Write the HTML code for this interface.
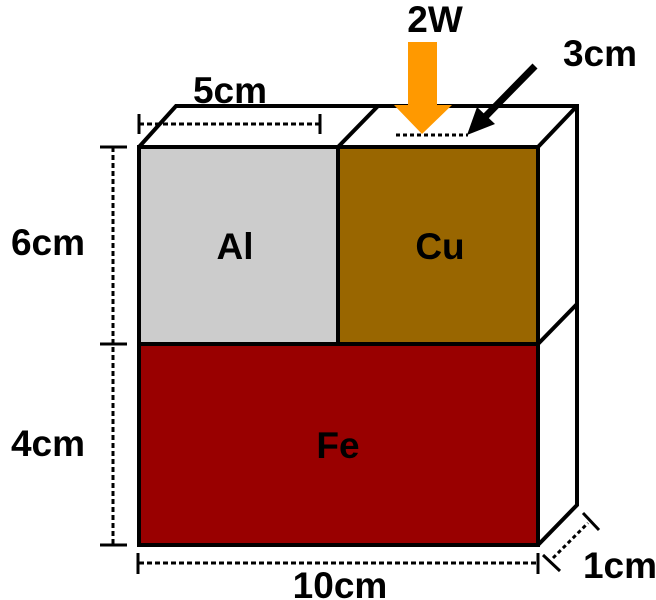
<!DOCTYPE html>
<html><head><style>body{margin:0;background:#fff}svg{display:block}</style></head><body>
<svg width="656" height="600" viewBox="0 0 656 600" xmlns="http://www.w3.org/2000/svg" font-family="Liberation Sans, Arial, sans-serif" font-weight="bold">
<rect x="139" y="147" width="199" height="197" fill="#cccccc"/>
<rect x="338" y="147" width="200" height="197" fill="#996600"/>
<rect x="139" y="344" width="399" height="201" fill="#990000"/>
<g stroke="#000" stroke-width="4" fill="none" stroke-linejoin="miter">
<rect x="139" y="147" width="399" height="398"/>
<line x1="338" y1="147" x2="338" y2="344"/>
<line x1="139" y1="344" x2="538" y2="344"/>
<polyline points="139,147 176,106 577,106 577,505 538,545"/>
<line x1="338" y1="147" x2="378" y2="106"/>
<line x1="538" y1="147" x2="577" y2="106"/>
<line x1="538" y1="344" x2="577" y2="304"/>
</g>
<g stroke="#000" stroke-width="3" fill="none">
<line x1="139" y1="124" x2="320" y2="124" stroke-dasharray="5,3"/>
<line x1="139" y1="114" x2="139" y2="134"/><line x1="320" y1="114" x2="320" y2="134"/>
<line x1="113" y1="147" x2="113" y2="545" stroke-dasharray="5,3"/>
<line x1="100" y1="147" x2="127" y2="147"/><line x1="100" y1="344" x2="127" y2="344"/><line x1="100" y1="545" x2="127" y2="545"/>
<line x1="139" y1="563" x2="538" y2="563" stroke-dasharray="5,3"/>
<line x1="138" y1="553" x2="138" y2="574"/><line x1="538" y1="553" x2="538" y2="574"/>
<line x1="553" y1="558" x2="588" y2="523" stroke-dasharray="4,3"/>
<line x1="543" y1="555" x2="560" y2="571"/><line x1="583" y1="513" x2="599" y2="530"/>
<line x1="396" y1="135" x2="468" y2="135" stroke-dasharray="4,3"/>
<line x1="535" y1="66" x2="485" y2="117" stroke-width="7"/>
</g>
<polygon points="467,135 477,107 495,124" fill="#000"/>
<polygon points="408,42 437,42 437,105 452,105 422,134 394,105 408,105" fill="#ff9900"/>
<g font-size="37" text-anchor="middle" fill="#000">
<text x="435" y="32">2W</text>
<text x="600" y="66">3cm</text>
<text x="230" y="103">5cm</text>
<text x="48" y="255">6cm</text>
<text x="48" y="456">4cm</text>
<text x="340" y="598">10cm</text>
<text x="620" y="578">1cm</text>
<text x="235" y="259">Al</text>
<text x="440" y="259">Cu</text>
<text x="338" y="458">Fe</text>
</g>
</svg>
</body></html>
